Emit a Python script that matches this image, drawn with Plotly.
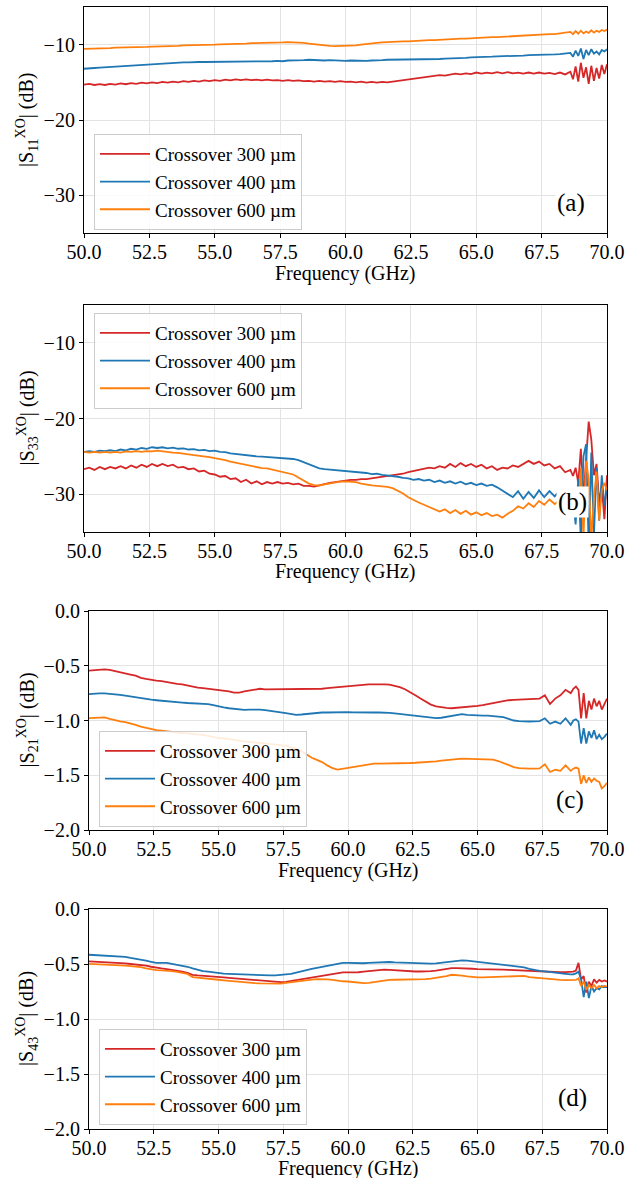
import numpy as np
import plotly.graph_objects as go

# Frequency sampling (GHz): 0.2 GHz steps up to 68.6 GHz, 0.1 GHz steps to 70 GHz
freq = np.round(np.concatenate([np.arange(50.0, 68.61, 0.2), np.arange(68.7, 70.01, 0.1)]), 2)

# |S11| (dB)
s11_300 = [
    -15.3, -15.2, -15.35, -15.25, -15.35,
    -15.2, -15.3, -15.15, -15.25, -15.1,
    -15.2, -15.05, -15.15, -15.0, -15.1,
    -14.95, -15.05, -14.9, -15.0, -14.85,
    -14.95, -14.8, -14.9, -14.75, -14.85,
    -14.7, -14.8, -14.65, -14.75, -14.6,
    -14.7, -14.6, -14.7, -14.65, -14.75,
    -14.65, -14.75, -14.7, -14.8, -14.7,
    -14.8, -14.75, -14.85, -14.8, -14.9,
    -14.8, -14.9, -14.85, -14.95, -14.85,
    -14.95, -14.9, -15.0, -14.9, -15.05,
    -14.95, -15.05, -14.95, -15.0, -14.9,
    -14.85, -14.75, -14.6, -14.55, -14.4,
    -14.35, -14.25, -14.2, -14.05, -14.1,
    -13.95, -13.85, -13.95, -13.8, -13.9,
    -13.7, -13.85, -13.7, -13.8, -13.65,
    -13.8, -13.65, -13.8, -13.7, -13.85,
    -13.7, -13.85, -13.7, -13.85, -13.75,
    -13.9, -13.7, -13.95, -13.6,
    -14.6, -12.9, -14.9, -12.4, -14.4, -13.0, -15.2, -12.8, -14.8, -13.1, -14.5, -12.7, -13.9, -12.6,
]
s11_400 = [
    -13.2, -13.2, -13.1, -13.05, -13.0,
    -12.95, -12.9, -12.85, -12.8, -12.75,
    -12.75, -12.7, -12.6, -12.6, -12.55,
    -12.5, -12.45, -12.45, -12.4, -12.35,
    -12.35, -12.3, -12.3, -12.3, -12.3,
    -12.3, -12.25, -12.3, -12.25, -12.25,
    -12.25, -12.2, -12.25, -12.2, -12.2,
    -12.2, -12.2, -12.15, -12.2, -12.1,
    -12.1, -12.05, -12.05, -12.0, -12.05,
    -12.05, -12.1, -12.05, -12.1, -12.1,
    -12.15, -12.1, -12.15, -12.1, -12.15,
    -12.1, -12.1, -12.05, -12.0, -12.0,
    -11.95, -12.0, -11.95, -12.0, -11.95,
    -11.95, -11.95, -11.9, -11.9, -11.85,
    -11.85, -11.8, -11.75, -11.75, -11.7,
    -11.7, -11.65, -11.6, -11.6, -11.55,
    -11.55, -11.5, -11.5, -11.45, -11.45,
    -11.4, -11.4, -11.35, -11.3, -11.3,
    -11.3, -11.25, -11.2, -11.1,
    -11.6, -10.8, -11.5, -10.5, -11.9, -10.7, -11.4, -10.6, -11.2, -10.9, -11.3, -10.7, -10.9, -10.6,
]
s11_600 = [
    -10.55, -10.55, -10.5, -10.5, -10.45,
    -10.45, -10.4, -10.4, -10.35, -10.35,
    -10.35, -10.3, -10.3, -10.25, -10.25,
    -10.2, -10.2, -10.15, -10.15, -10.1,
    -10.1, -10.1, -10.05, -10.05, -10.0,
    -10.0, -9.95, -9.95, -9.9, -9.9,
    -9.85, -9.85, -9.8, -9.8, -9.75,
    -9.75, -9.75, -9.7, -9.7, -9.65,
    -9.65, -9.7, -9.75, -9.85, -9.95,
    -10.0, -10.1, -10.15, -10.2, -10.2,
    -10.2, -10.15, -10.1, -10.0, -9.9,
    -9.8, -9.75, -9.7, -9.65, -9.6,
    -9.6, -9.55, -9.55, -9.5, -9.5,
    -9.45, -9.4, -9.4, -9.35, -9.3,
    -9.3, -9.25, -9.2, -9.2, -9.15,
    -9.15, -9.1, -9.05, -9.0, -9.0,
    -8.95, -8.9, -8.85, -8.85, -8.8,
    -8.8, -8.75, -8.7, -8.65, -8.6,
    -8.6, -8.5, -8.45, -8.3,
    -8.6, -8.2, -8.55, -8.15, -8.5, -8.25, -8.45, -8.1, -8.4, -8.15, -8.3, -8.05, -8.2, -8.0,
]

# |S33| (dB)
s33_300 = [
    -26.7, -26.5, -26.8, -26.4, -26.7,
    -26.4, -26.6, -26.3, -26.6, -26.2,
    -26.5, -26.1, -26.4, -26.0, -26.3,
    -26.0, -26.3, -26.1, -26.5, -26.4,
    -26.7, -26.6, -27.0, -26.9, -27.3,
    -27.4, -27.7, -27.6, -28.0, -27.9,
    -28.4, -28.1, -28.6, -28.3, -28.7,
    -28.4, -28.6, -28.4, -28.6, -28.5,
    -28.7, -28.6, -28.9, -28.9, -29.0,
    -28.8, -28.7, -28.5, -28.4, -28.3,
    -28.2, -28.1, -28.1, -28.0, -28.0,
    -27.9, -27.8, -27.7, -27.6, -27.55,
    -27.45, -27.3, -27.1, -26.95, -26.8,
    -26.7, -26.5, -26.6, -26.3, -26.5,
    -26.0, -26.4, -25.9, -26.3, -26.0,
    -26.4, -26.1, -26.6, -26.3, -26.8,
    -26.5, -26.6, -26.2, -26.4, -26.0,
    -25.6, -26.0, -25.7, -26.2, -26.0,
    -26.6, -26.3, -27.1, -26.8,
    -27.6, -26.5, -28.5, -24.0, -30.5, -25.5, -20.4, -22.8, -27.5, -26.0, -31.0, -29.0, -33.3, -27.5,
]
s33_400 = [
    -24.4, -24.3, -24.4, -24.25, -24.3,
    -24.2, -24.3, -24.1, -24.2, -24.0,
    -24.1, -23.9, -24.0, -23.8, -23.9,
    -23.8, -23.95, -23.85, -24.0, -23.95,
    -24.1, -24.05, -24.2, -24.15, -24.3,
    -24.25, -24.4, -24.45, -24.6, -24.7,
    -24.75, -24.85, -24.9, -25.0, -25.05,
    -25.1, -25.1, -25.2, -25.2, -25.3,
    -25.35, -25.5, -25.8, -26.1, -26.35,
    -26.6, -26.7, -26.75, -26.85, -26.9,
    -26.95, -27.0, -27.1, -27.05, -27.2,
    -27.35, -27.3, -27.45, -27.5, -27.6,
    -27.7, -27.85, -27.9, -28.1, -28.0,
    -28.2, -28.1, -28.4, -28.2, -28.5,
    -28.3, -28.6, -28.35, -28.7, -28.5,
    -28.8, -28.6, -28.9, -28.75, -29.1,
    -29.5, -29.9, -30.4, -29.6, -30.6,
    -29.7, -30.5, -29.5, -30.4, -29.6,
    -30.3, -29.5, -30.2, -29.6,
    -30.5, -34.0, -28.0, -36.0, -25.0, -23.4, -37.0, -24.5, -35.5, -26.5, -33.5, -27.5, -31.5, -29.0,
]
s33_600 = [
    -24.4, -24.5, -24.4, -24.5, -24.4,
    -24.5, -24.4, -24.5, -24.35, -24.4,
    -24.3, -24.4, -24.3, -24.35, -24.25,
    -24.35, -24.4, -24.5, -24.55, -24.7,
    -24.75, -24.85, -24.9, -25.0, -25.1,
    -25.25, -25.35, -25.5, -25.7, -25.85,
    -26.0, -26.1, -26.3, -26.45, -26.55,
    -26.6, -26.75, -26.9, -27.0, -27.2,
    -27.4, -27.8, -28.2, -28.6, -28.8,
    -28.85, -28.7, -28.55, -28.4, -28.35,
    -28.3, -28.35, -28.4, -28.6, -28.75,
    -28.85, -28.9, -28.95, -29.05, -29.2,
    -29.5, -29.9, -30.4, -30.8, -31.1,
    -31.4, -31.7, -31.9, -32.3, -32.0,
    -32.5, -32.1, -32.6, -32.2, -32.7,
    -32.4, -32.8, -32.5, -32.9, -32.7,
    -33.1, -32.6, -32.2, -31.6, -31.9,
    -31.2, -31.7, -30.9, -31.4, -30.7,
    -31.3, -30.8, -31.1, -30.7,
    -31.5, -29.5, -33.0, -26.5, -36.0, -25.6, -28.0, -36.0, -30.5, -27.0, -33.5, -29.5, -28.5, -29.5,
]

# |S21| (dB)
s21_300 = [
    -0.545, -0.54, -0.535, -0.533, -0.538,
    -0.55, -0.56, -0.57, -0.58, -0.59,
    -0.61, -0.62, -0.63, -0.635, -0.64,
    -0.65, -0.655, -0.665, -0.67, -0.68,
    -0.695, -0.70, -0.705, -0.71, -0.715,
    -0.725, -0.73, -0.735, -0.745, -0.745,
    -0.735, -0.725, -0.72, -0.71, -0.715,
    -0.715, -0.71, -0.715, -0.715, -0.71,
    -0.715, -0.715, -0.71, -0.715, -0.715,
    -0.71, -0.705, -0.70, -0.695, -0.69,
    -0.69, -0.685, -0.68, -0.675, -0.67,
    -0.67, -0.668, -0.67, -0.672, -0.68,
    -0.695, -0.715, -0.74, -0.77, -0.80,
    -0.83, -0.855, -0.87, -0.88, -0.885,
    -0.888, -0.885, -0.88, -0.875, -0.87,
    -0.867, -0.86, -0.85, -0.84, -0.83,
    -0.82, -0.815, -0.812, -0.81, -0.806,
    -0.806, -0.805, -0.80, -0.77, -0.85,
    -0.80, -0.77, -0.72, -0.75,
    -0.71, -0.69, -0.72, -0.98, -0.75, -0.98, -0.82, -0.90, -0.80, -0.87, -0.82, -0.90, -0.85, -0.80,
]
s21_400 = [
    -0.76, -0.755, -0.752, -0.752, -0.755,
    -0.758, -0.765, -0.772, -0.78, -0.79,
    -0.797, -0.803, -0.81, -0.815, -0.82,
    -0.827, -0.83, -0.835, -0.836, -0.84,
    -0.842, -0.845, -0.845, -0.85, -0.86,
    -0.873, -0.88, -0.888, -0.895, -0.90,
    -0.903, -0.90, -0.897, -0.90, -0.905,
    -0.91, -0.918, -0.925, -0.933, -0.94,
    -0.948, -0.945, -0.94, -0.935, -0.93,
    -0.927, -0.927, -0.925, -0.925, -0.924,
    -0.924, -0.925, -0.927, -0.927, -0.927,
    -0.927, -0.927, -0.927, -0.93, -0.935,
    -0.94, -0.945, -0.948, -0.953, -0.96,
    -0.965, -0.972, -0.979, -0.975, -0.965,
    -0.958, -0.95, -0.942, -0.948, -0.952,
    -0.955, -0.955, -0.955, -0.958, -0.965,
    -0.97, -0.985, -1.0, -1.005, -1.009,
    -1.009, -1.008, -1.005, -0.98, -1.03,
    -1.01, -1.03, -0.98, -1.04,
    -1.00, -0.99, -1.01, -1.21, -1.07, -1.21, -1.10, -1.16, -1.09, -1.17, -1.13, -1.17, -1.15, -1.12,
]
s21_600 = [
    -0.979, -0.975, -0.97, -0.972, -0.985,
    -1.0, -1.008, -1.015, -1.025, -1.04,
    -1.055, -1.067, -1.08, -1.088, -1.093,
    -1.10, -1.105, -1.11, -1.115, -1.118,
    -1.121, -1.125, -1.132, -1.14, -1.15,
    -1.16, -1.163, -1.168, -1.175, -1.183,
    -1.19, -1.195, -1.198, -1.20, -1.205,
    -1.212, -1.218, -1.225, -1.232, -1.245,
    -1.26, -1.28, -1.31, -1.34, -1.36,
    -1.38, -1.41, -1.435, -1.448, -1.44,
    -1.433, -1.425, -1.412, -1.405, -1.398,
    -1.394, -1.393, -1.393, -1.392, -1.392,
    -1.392, -1.39, -1.388, -1.386, -1.384,
    -1.382, -1.378, -1.373, -1.367, -1.36,
    -1.358, -1.352, -1.348, -1.35, -1.355,
    -1.357, -1.357, -1.357, -1.358, -1.37,
    -1.388, -1.405, -1.425, -1.435, -1.44,
    -1.44, -1.44, -1.437, -1.40, -1.47,
    -1.45, -1.46, -1.41, -1.46,
    -1.44, -1.43, -1.44, -1.58, -1.50, -1.57, -1.52, -1.56, -1.53, -1.55, -1.56, -1.62, -1.60, -1.57,
]

# |S43| (dB)
s43_300 = [
    -0.476, -0.478, -0.48, -0.482, -0.484,
    -0.486, -0.49, -0.495, -0.50, -0.505,
    -0.507, -0.515, -0.525, -0.535, -0.54,
    -0.546, -0.552, -0.56, -0.57, -0.58,
    -0.598, -0.603, -0.608, -0.612, -0.616,
    -0.619, -0.622, -0.626, -0.63, -0.634,
    -0.637, -0.64, -0.643, -0.646, -0.649,
    -0.652, -0.657, -0.665, -0.663, -0.655,
    -0.643, -0.637, -0.63, -0.62, -0.612,
    -0.604, -0.598, -0.59, -0.583, -0.577,
    -0.577, -0.577, -0.575, -0.57, -0.565,
    -0.558, -0.555, -0.552, -0.554, -0.558,
    -0.561, -0.565, -0.568, -0.568, -0.568,
    -0.568, -0.565, -0.56, -0.552, -0.545,
    -0.537, -0.537, -0.537, -0.54, -0.543,
    -0.546, -0.546, -0.546, -0.548, -0.55,
    -0.552, -0.554, -0.556, -0.56, -0.564,
    -0.568, -0.568, -0.57, -0.572, -0.575,
    -0.577, -0.575, -0.573, -0.57,
    -0.57, -0.56, -0.49, -0.64, -0.61, -0.76, -0.66, -0.70, -0.64, -0.67, -0.645, -0.66, -0.65, -0.66,
]
s43_400 = [
    -0.416, -0.418, -0.42, -0.422, -0.425,
    -0.428, -0.43, -0.435, -0.445, -0.452,
    -0.46, -0.47, -0.48, -0.49, -0.49,
    -0.49, -0.498, -0.505, -0.515, -0.525,
    -0.54, -0.555, -0.565, -0.57, -0.578,
    -0.585, -0.588, -0.59, -0.592, -0.595,
    -0.598, -0.60, -0.602, -0.603, -0.604,
    -0.604, -0.603, -0.60, -0.598, -0.59,
    -0.578, -0.565, -0.555, -0.545, -0.535,
    -0.525, -0.515, -0.505, -0.497, -0.49,
    -0.49, -0.492, -0.495, -0.493, -0.49,
    -0.488, -0.485, -0.48, -0.482, -0.486,
    -0.488, -0.49, -0.49, -0.492, -0.494,
    -0.497, -0.497, -0.495, -0.49, -0.485,
    -0.478, -0.47, -0.467, -0.47, -0.475,
    -0.485, -0.49, -0.494, -0.498, -0.502,
    -0.505, -0.51, -0.515, -0.522, -0.53,
    -0.545, -0.555, -0.562, -0.568, -0.575,
    -0.58, -0.585, -0.59, -0.595,
    -0.595, -0.585, -0.57, -0.64, -0.80, -0.66, -0.81, -0.70, -0.75, -0.72, -0.73, -0.70, -0.71, -0.71,
]
s43_600 = [
    -0.498, -0.50, -0.502, -0.504, -0.505,
    -0.507, -0.51, -0.515, -0.52, -0.525,
    -0.528, -0.54, -0.55, -0.555, -0.558,
    -0.56, -0.565, -0.572, -0.58, -0.59,
    -0.619, -0.625, -0.63, -0.635, -0.64,
    -0.643, -0.648, -0.653, -0.658, -0.663,
    -0.668, -0.67, -0.673, -0.676, -0.678,
    -0.68, -0.68, -0.678, -0.672, -0.665,
    -0.659, -0.653, -0.647, -0.642, -0.638,
    -0.637, -0.64, -0.645, -0.652, -0.657,
    -0.659, -0.664, -0.668, -0.674, -0.672,
    -0.665, -0.658, -0.65, -0.645, -0.643,
    -0.643, -0.642, -0.641, -0.64, -0.64,
    -0.637, -0.633, -0.627, -0.62, -0.61,
    -0.598, -0.60, -0.605, -0.612, -0.618,
    -0.622, -0.622, -0.62, -0.619, -0.618,
    -0.616, -0.612, -0.607, -0.604, -0.608,
    -0.619, -0.624, -0.628, -0.632, -0.636,
    -0.64, -0.644, -0.647, -0.649,
    -0.648, -0.645, -0.63, -0.70, -0.66, -0.734, -0.69, -0.72, -0.69, -0.72, -0.70, -0.71, -0.70, -0.704,
]

series_names = ["Crossover 300 µm", "Crossover 400 µm", "Crossover 600 µm"]
series_colors = ["#d62728", "#1f77b4", "#ff7f0e"]

x_ticks = [50.0, 52.5, 55.0, 57.5, 60.0, 62.5, 65.0, 67.5, 70.0]
x_ticktext = ["50.0", "52.5", "55.0", "57.5", "60.0", "62.5", "65.0", "67.5", "70.0"]
y_ticks_refl = [-10, -20, -30]
y_ticktext_refl = ["−10", "−20", "−30"]
y_ticks_trans = [0.0, -0.5, -1.0, -1.5, -2.0]
y_ticktext_trans = ["0.0", "−0.5", "−1.0", "−1.5", "−2.0"]

panels = [
    dict(data=[s11_300, s11_400, s11_600], ylabel="|S<sub>11</sub><sup>XO</sup>| (dB)", tag="(a)",
         yrange=[-35, -5], yt=y_ticks_refl, ytt=y_ticktext_refl),
    dict(data=[s33_300, s33_400, s33_600], ylabel="|S<sub>33</sub><sup>XO</sup>| (dB)", tag="(b)",
         yrange=[-35, -5], yt=y_ticks_refl, ytt=y_ticktext_refl),
    dict(data=[s21_300, s21_400, s21_600], ylabel="|S<sub>21</sub><sup>XO</sup>| (dB)", tag="(c)",
         yrange=[-2, 0], yt=y_ticks_trans, ytt=y_ticktext_trans),
    dict(data=[s43_300, s43_400, s43_600], ylabel="|S<sub>43</sub><sup>XO</sup>| (dB)", tag="(d)",
         yrange=[-2, 0], yt=y_ticks_trans, ytt=y_ticktext_trans),
]

W, H = 639, 1178
FONT = "Liberation Serif"
FS = 20
LEG_FS = 19

# Pixel geometry of each axes box: (left, right, top, bottom)
boxes = [(84, 607, 7, 233), (84, 607, 305, 532), (89, 607, 611, 830), (89, 607, 909, 1129)]
legend_pos = [(94, 134), (94, 313), (99, 731), (99, 1029)]
tag_pos = [(571, 203), (572, 502), (570, 800), (572, 1098)]
xtitle_gap = [40, 40, 40, 39]


def px(xp):
    return xp / W


def py(yp):
    return 1 - yp / H


fig = go.Figure()
annotations = []
layout = dict(
    width=W, height=H,
    margin=dict(l=0, r=0, t=0, b=0),
    paper_bgcolor="white", plot_bgcolor="white",
    font=dict(family=FONT, size=FS, color="black"),
    showlegend=True,
)

for i, p in enumerate(panels):
    n = i + 1
    sfx = "" if n == 1 else str(n)
    legend_id = "legend" if n == 1 else f"legend{n}"
    for name, color, vals in zip(series_names, series_colors, p["data"]):
        fig.add_trace(go.Scatter(
            x=freq, y=vals, mode="lines", name=name,
            line=dict(color=color, width=1.8),
            xaxis=f"x{sfx}", yaxis=f"y{sfx}", legend=legend_id,
        ))
    l, r, t, b = boxes[i]
    axis_common = dict(
        showline=True, linecolor="black", linewidth=1.2, mirror=True,
        ticks="outside", ticklen=4, tickwidth=1.2, tickcolor="black",
        showgrid=True, gridcolor="#e3e3e3", gridwidth=1, zeroline=False,
        tickfont=dict(family=FONT, size=FS, color="black"), automargin=False,
    )
    layout[f"xaxis{sfx}"] = dict(
        axis_common, domain=[px(l), px(r)], range=[50, 70], anchor=f"y{sfx}",
        tickvals=x_ticks, ticktext=x_ticktext, ticklabelstandoff=-3,
    )
    layout[f"yaxis{sfx}"] = dict(
        axis_common, domain=[py(b), py(t)], range=p["yrange"], anchor=f"x{sfx}",
        tickvals=p["yt"], ticktext=p["ytt"],
    )
    lx, ly = legend_pos[i]
    layout[legend_id] = dict(
        x=px(lx), y=py(ly), xanchor="left", yanchor="top",
        bgcolor="rgba(255,255,255,0.85)", bordercolor="#cccccc", borderwidth=1,
        font=dict(family=FONT, size=LEG_FS, color="black"), itemwidth=50,
    )
    # axis titles
    annotations.append(dict(
        text="Frequency (GHz)", xref="paper", yref="paper",
        x=px((l + r) / 2), y=py(b + xtitle_gap[i]), xanchor="center", yanchor="middle",
        showarrow=False, font=dict(family=FONT, size=FS),
    ))
    annotations.append(dict(
        text=p["ylabel"], xref="paper", yref="paper", textangle=-90,
        x=px(27), y=py((t + b) / 2), xanchor="center", yanchor="middle",
        showarrow=False, font=dict(family=FONT, size=FS),
    ))
    tx, ty = tag_pos[i]
    annotations.append(dict(
        text=p["tag"], xref="paper", yref="paper",
        x=px(tx), y=py(ty), xanchor="center", yanchor="middle",
        showarrow=False, font=dict(family=FONT, size=25),
        bgcolor="white", borderpad=1,
    ))

layout["annotations"] = annotations
fig.update_layout(**layout)
fig.write_html("out.html")
